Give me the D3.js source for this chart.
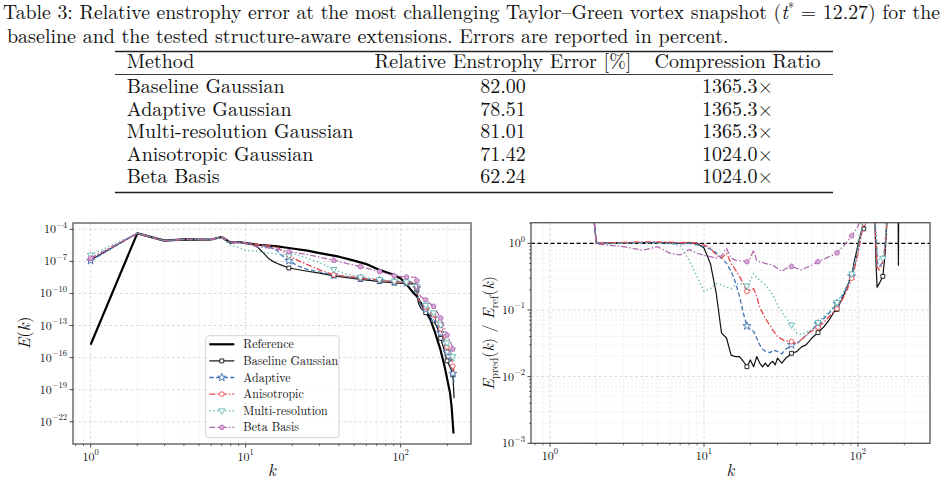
<!DOCTYPE html>
<html>
<head>
<meta charset="utf-8">
<script src="https://cdn.jsdelivr.net/npm/d3@7"></script>
<style>
  body { margin: 0; background: #fff; }
  svg text { font-family: "Latin Modern Roman", "CMU Serif", "Liberation Serif", serif; fill: #111; }
</style>
</head>
<body>
<svg id="fig" width="948" height="484"></svg>
<script>
// ---------- table data ----------
const tableHeader = ["Method", "Relative Enstrophy Error [%]", "Compression Ratio"];
const methods = ["Baseline Gaussian", "Adaptive Gaussian", "Multi-resolution Gaussian", "Anisotropic Gaussian", "Beta Basis"];
const errors = ["82.00", "78.51", "81.01", "71.42", "62.24"];
const ratios = ["1365.3×", "1365.3×", "1365.3×", "1024.0×", "1024.0×"];

// ---------- spectra E(k), pairs [k, E] ----------
const specReference = [[1,1.6e-15],[2,4.2e-5],[3,8.7e-6],[4,1.15e-5],[5,1.07e-5],[6,1.12e-5],[7,1.9e-5],[8,5.6e-6],[9,6.5e-6],[10,5.2e-6],
  [12,3.6e-6],[14,3.0e-6],[16,2.5e-6],[18,2.0e-6],[20,1.6e-6],[25,1.0e-6],[30,6.0e-7],[40,2.75e-7],[50,1.17e-7],[60,5.6e-8],[73,1.6e-8],
  [80,1.0e-8],[90,5.6e-9],[100,2.5e-9],[107,1.0e-9],[120,1.26e-10],[127,5.6e-11],[140,5.0e-12],[155,4.0e-13],[166,2.5e-14],[180,6.3e-16],
  [193,1.0e-17],[208,5.0e-20],[213,2.5e-21],[219,8e-24]];
const specBaseline = [[1,1.35e-7],[2,4.2e-5],[3,8.7e-6],[4,1.15e-5],[5,1.07e-5],[6,1.12e-5],[7,1.9e-5],[8,5.6e-6],[9,6.5e-6],[10,5.2e-6],
  [11,4.0e-6],[12,2.0e-6],[13,6.3e-7],[14,2.0e-7],[15,1.0e-7],[16,6.3e-8],[17,4.5e-8],[19,2.4e-8],[25,1.2e-8],[30,7.9e-9],[37,4.5e-9],
  [45,3.0e-9],[55,2.1e-9],[65,1.6e-9],[73,1.3e-9],[91,9.5e-10],[109,8.5e-10],[125,7.6e-10],[127,2.5e-10],[130,1.26e-11],[135,4.0e-12],
  [145,1.6e-12],[155,7.9e-13],[163,3.2e-13],[172,6.3e-14],[181,6.3e-15],[190,6.3e-16],[199,5.0e-17],[210,1.0e-17],[217,2.5e-18],[221,1.6e-20]];
const specAdaptive = [[1,1.17e-7],[2,4.2e-5],[3,8.7e-6],[4,1.15e-5],[5,1.07e-5],[6,1.12e-5],[7,1.9e-5],[8,5.6e-6],[9,6.5e-6],[10,5.2e-6],
  [12,3.8e-6],[14,2.5e-6],[16,1.0e-6],[17,4.0e-7],[19,1.12e-7],[22,3.5e-8],[25,1.8e-8],[30,1.0e-8],[37,5.2e-9],[55,2.5e-9],[73,1.6e-9],
  [91,1.12e-9],[109,1.0e-9],[125,8.9e-10],[127,3.2e-10],[130,2.5e-11],[135,7.9e-12],[145,3.2e-12],[163,5.0e-13],[181,2.0e-14],[199,3.2e-16],
  [210,5.0e-17],[217,3.2e-18],[221,3.2e-19]];
const specAnisotropic = [[1,1.9e-7],[2,4.2e-5],[3,8.7e-6],[4,1.15e-5],[5,1.07e-5],[6,1.12e-5],[7,1.9e-5],[8,5.6e-6],[9,6.5e-6],[10,5.2e-6],
  [12,3.8e-6],[14,3.0e-6],[16,2.1e-6],[19,3.2e-7],[22,1.12e-7],[25,5.0e-8],[30,1.6e-8],[37,5.6e-9],[55,2.8e-9],[73,1.8e-9],[91,1.26e-9],
  [109,1.12e-9],[125,1.0e-9],[127,4.0e-10],[130,3.2e-11],[135,1.26e-11],[145,5.0e-12],[163,1.0e-12],[181,5.0e-14],[199,1.0e-15],
  [210,2.5e-16],[217,1.6e-17],[221,5.0e-18]];
const specMultires = [[1,4.0e-7],[2,4.2e-5],[3,8.7e-6],[4,1.15e-5],[5,1.07e-5],[6,1.12e-5],[7,1.9e-5],[8,3.2e-6],[9,2.0e-6],[10,1.05e-6],
  [12,8.9e-7],[14,6.3e-7],[16,5.0e-7],[19,3.6e-7],[21,4.8e-7],[24,2.5e-7],[28,1.12e-7],[33,4.0e-8],[37,1.8e-8],[45,6.3e-9],[55,3.5e-9],
  [73,2.0e-9],[91,1.4e-9],[109,1.26e-9],[125,1.12e-9],[127,5.0e-10],[130,4.0e-11],[135,1.6e-11],[145,7.9e-12],[163,1.6e-12],[181,1.26e-13],
  [199,2.5e-15],[210,4.0e-16],[217,1.26e-16],[221,3.2e-17]];
const specBeta = [[1,2.0e-7],[2,4.2e-5],[3,8.7e-6],[4,1.15e-5],[5,1.07e-5],[6,1.12e-5],[7,1.9e-5],[8,5.6e-6],[9,6.5e-6],[10,5.2e-6],
  [12,2.2e-6],[14,1.8e-6],[16,1.4e-6],[19,7.9e-7],[25,4.5e-7],[30,2.5e-7],[37,1.26e-7],[45,6.3e-8],[55,3.2e-8],[73,1.12e-8],[91,4.5e-9],
  [109,3.5e-9],[125,3.2e-9],[127,1.6e-9],[130,1.26e-10],[135,5.0e-11],[145,2.5e-11],[163,6.3e-12],[181,5.0e-13],[199,1.26e-14],
  [210,2.5e-15],[217,6.3e-16],[221,3.2e-16]];

// ---------- ratio E_pred / E_ref, pairs [k, r] ----------
const ratioBaseline = [[1,1e7],[2,1.0],[3,1.02],[4,1.03],[5,1.03],[6,1.02],[7,1.0],[8,1.02],[9,1.0],[10,0.85],[11,0.5],[12,0.18],[13,0.045],
  [14,0.038],[15,0.021],[16,0.02],[17,0.02],[18,0.017],[19,0.0141],[20,0.0178],[21,0.0141],[22,0.02],[23,0.016],[24,0.014],[25,0.016],
  [26,0.0141],[27,0.016],[28,0.017],[29,0.015],[30,0.019],[32,0.016],[34,0.019],[36,0.021],[37,0.0224],[40,0.0237],[43,0.028],[46,0.03],
  [50,0.0376],[55,0.0457],[60,0.056],[65,0.071],[70,0.094],[73,0.102],[80,0.158],[85,0.224],[91,0.335],[95,0.56],[100,0.94],[105,1.5],
  [109,1.65],[115,3],[120,6],[127,10],[129,2.0],[131,0.5],[133,0.22],[136,0.24],[140,0.27],[145,0.32],[150,0.7],[155,2.5],[160,10],
  [181,10],[182,4],[183,0.47],[184,4],[185,10],[222,10]];
const ratioAdaptive = [[1,1e7],[2,1.0],[3,1.02],[4,1.03],[5,1.03],[6,1.0],[7,0.98],[8,1.0],[9,0.95],[10,0.9],[11,0.82],[12,0.72],[13,0.6],
  [14,0.5],[15,0.38],[16,0.26],[17,0.16],[18,0.09],[19,0.0575],[20,0.05],[21,0.048],[22,0.038],[23,0.03],[24,0.026],[25,0.024],[27,0.023],
  [28,0.025],[30,0.024],[32,0.022],[34,0.026],[36,0.028],[37,0.03],[40,0.031],[43,0.036],[46,0.042],[50,0.05],[55,0.062],[60,0.075],
  [65,0.09],[70,0.11],[73,0.125],[80,0.17],[85,0.22],[91,0.32],[95,0.45],[100,0.8],[105,1.4],[109,2.2],[115,5],[127,10],[130,1.5],
  [134,0.5],[138,0.45],[143,0.5],[148,0.7],[152,1.5],[156,5],[222,10]];
const ratioAnisotropic = [[1,1e7],[2,1.0],[3,1.03],[4,1.05],[5,1.05],[6,1.04],[7,1.02],[8,1.04],[9,1.0],[10,0.95],[11,0.85],[12,0.67],
  [13,0.6],[14,0.71],[15,0.5],[16,0.4],[17,0.32],[18,0.25],[19,0.19],[20,0.2],[21,0.21],[22,0.16],[23,0.11],[25,0.075],[28,0.05],
  [30,0.04],[33,0.035],[36,0.0335],[37,0.0335],[40,0.0316],[44,0.0376],[49,0.047],[55,0.055],[60,0.065],[65,0.08],[70,0.095],[73,0.105],
  [80,0.15],[85,0.2],[91,0.3],[95,0.42],[100,0.7],[105,1.3],[109,2.0],[115,5],[127,10],[130,1.2],[133,0.45],[137,0.4],[142,0.45],
  [147,0.6],[152,1.3],[156,5],[222,10]];
const ratioMultires = [[1,1e7],[2,0.97],[3,1.0],[4,1.02],[5,1.0],[6,0.98],[7,0.93],[8,0.56],[9,0.32],[10,0.19],[11,0.21],[12,0.25],
  [13,0.24],[14,0.22],[15,0.21],[16,0.24],[17,0.25],[18,0.24],[19,0.23],[20,0.28],[21,0.35],[22,0.31],[23,0.28],[25,0.24],[28,0.168],
  [30,0.119],[33,0.084],[37,0.06],[40,0.045],[43,0.043],[46,0.046],[50,0.05],[55,0.065],[60,0.08],[65,0.095],[70,0.115],[73,0.13],
  [80,0.18],[85,0.24],[91,0.35],[95,0.5],[100,0.85],[105,1.5],[109,2.5],[115,6],[127,10],[130,1.8],[135,0.6],[140,0.55],[145,0.6],
  [150,0.9],[154,2],[157,6],[222,10]];
const ratioBeta = [[1,1e7],[2,0.98],[3,0.89],[4,0.79],[5,0.89],[6,0.71],[7,0.67],[8,0.81],[9,0.71],[10,0.66],[11,0.63],[12,0.6],
  [13,0.65],[14,0.84],[15,0.6],[16,0.56],[17,0.55],[18,0.54],[19,0.53],[20,0.6],[21,0.79],[22,0.55],[23,0.53],[25,0.5],[28,0.47],
  [30,0.42],[32,0.38],[34,0.42],[37,0.45],[40,0.42],[43,0.4],[46,0.43],[50,0.47],[55,0.53],[60,0.58],[65,0.63],[70,0.68],[73,0.72],
  [80,0.9],[85,1.05],[91,1.3],[95,1.5],[100,1.8],[105,2.5],[110,4],[127,10],[222,10]];

// marker positions (every 18th wavenumber) and legend names
const markK = [1, 19, 37, 55, 73, 91, 109, 127, 145, 163, 181, 199, 217];
const seriesNames = ["Reference", "Baseline Gaussian", "Adaptive", "Anisotropic", "Multi-resolution", "Beta Basis"];

// ---------- styles ----------
const styles = {
  "Reference":         {color: "#000000", width: 2.2, dash: null,          marker: null},
  "Baseline Gaussian": {color: "#111111", width: 1.2, dash: null,          marker: "square"},
  "Adaptive":          {color: "#4273b2", width: 1.3, dash: "4.5,2.5",     marker: "star"},
  "Anisotropic":       {color: "#e8474c", width: 1.3, dash: "6,2,1.5,2",   marker: "circle"},
  "Multi-resolution":  {color: "#5cbab2", width: 1.4, dash: "1.3,2.6",     marker: "tridown"},
  "Beta Basis":        {color: "#b06cb0", width: 1.3, dash: "6,2,1.5,2",   marker: "pentagon"}
};
const specData  = [specReference, specBaseline, specAdaptive, specAnisotropic, specMultires, specBeta];
const ratioData = [null, ratioBaseline, ratioAdaptive, ratioAnisotropic, ratioMultires, ratioBeta];

const svg = d3.select("#fig");

// ---------- caption + table ----------
const cap1 = svg.append("text").attr("x", 3).attr("y", 19).style("font-size", "19.8px");
cap1.append("tspan").text("Table 3: Relative enstrophy error at the most challenging Taylor–Green vortex snapshot (");
cap1.append("tspan").style("font-style", "italic").text("t");
cap1.append("tspan").attr("dy", -7).style("font-size", "13px").text("*");
cap1.append("tspan").attr("dy", 7).text(" = 12.27) for the");

svg.append("text").attr("x", 7).attr("y", 43).style("font-size", "20px")
  .text("baseline and the tested structure-aware extensions. Errors are reported in percent.");

const tbl = svg.append("g");
const ruleX = [115, 833];
[[51.5, 1.4], [74.5, 0.9], [192.5, 1.4]].forEach(([y, w]) => {
  tbl.append("line").attr("x1", ruleX[0]).attr("x2", ruleX[1]).attr("y1", y).attr("y2", y)
    .attr("stroke", "#222").attr("stroke-width", w);
});
const colX = [126.7, 503, 737.5];
const colAnchor = ["start", "middle", "middle"];
tableHeader.forEach((h, i) => {
  tbl.append("text").attr("x", colX[i]).attr("y", 68.3).attr("text-anchor", colAnchor[i])
    .style("font-size", "20px").text(h);
});
const rowY = d3.range(methods.length).map(i => 93 + i * 22.5);
methods.forEach((m, i) => {
  [m, errors[i], ratios[i]].forEach((c, j) => {
    tbl.append("text").attr("x", colX[j]).attr("y", rowY[i]).attr("text-anchor", colAnchor[j])
      .style("font-size", "20px").text(c);
  });
});

// ---------- plot helpers ----------
function symbolPath(type) {
  if (type === "square") return d3.symbol(d3.symbolSquare, 15)();
  if (type === "circle") return d3.symbol(d3.symbolCircle, 17)();
  if (type === "star") return d3.symbol(d3.symbolStar, 20)();
  if (type === "tridown") return d3.symbol(d3.symbolTriangle, 17)();
  if (type === "pentagon") {
    const r = 2.6;
    return d3.range(5).map(i => {
      const a = -Math.PI / 2 + i * 2 * Math.PI / 5;
      return (i ? "L" : "M") + (r * Math.cos(a)).toFixed(2) + "," + (r * Math.sin(a)).toFixed(2);
    }).join("") + "Z";
  }
  return null;
}
function drawMarker(g, type, color, x, y) {
  return g.append("path").attr("d", symbolPath(type))
    .attr("transform", `translate(${x},${y})` + (type === "tridown" ? " rotate(180)" : ""))
    .attr("fill", type === "pentagon" ? "#d7a9d7" : "#fff")
    .attr("stroke", color).attr("stroke-width", 0.9);
}

function supText(g, x, y, base, exp, anchor) {
  const t = g.append("text").attr("x", x).attr("y", y).attr("text-anchor", anchor)
    .style("font-size", "12px");
  t.append("tspan").text(base);
  t.append("tspan").attr("dy", -5.5).style("font-size", "8.5px").text(exp);
  return t;
}

function drawPanel(id, box, xs, ys, cfg) {
  const g = svg.append("g");
  const gridMaj = {stroke: "#d2d2d2", w: 0.8, dash: "3,2.2"};
  const gridMin = {stroke: "#e6e6e6", w: 0.6, dash: "2,2"};
  const grid = g.append("g");
  const hline = (y, s) => grid.append("line").attr("x1", box.x0).attr("x2", box.x1).attr("y1", y).attr("y2", y)
    .attr("stroke", s.stroke).attr("stroke-width", s.w).attr("stroke-dasharray", s.dash);
  const vline = (x, s) => grid.append("line").attr("y1", box.y0).attr("y2", box.y1).attr("x1", x).attr("x2", x)
    .attr("stroke", s.stroke).attr("stroke-width", s.w).attr("stroke-dasharray", s.dash);

  cfg.xMinor.forEach(v => vline(xs(v), gridMin));
  cfg.xMajor.forEach(v => vline(xs(v), gridMaj));
  cfg.yMinor.forEach(v => hline(ys(v), gridMin));
  cfg.yMajor.forEach(v => hline(ys(v), gridMaj));

  svg.append("clipPath").attr("id", id).append("rect")
    .attr("x", box.x0).attr("y", box.y0).attr("width", box.x1 - box.x0).attr("height", box.y1 - box.y0);
  const plot = g.append("g").attr("clip-path", `url(#${id})`);

  const ax = g.append("g");
  ax.append("rect").attr("x", box.x0).attr("y", box.y0).attr("width", box.x1 - box.x0).attr("height", box.y1 - box.y0)
    .attr("fill", "none").attr("stroke", "#555").attr("stroke-width", 1.3);
  const tick = (x1, y1, x2, y2, w) => ax.append("line").attr("x1", x1).attr("y1", y1).attr("x2", x2).attr("y2", y2)
    .attr("stroke", "#333").attr("stroke-width", w);
  cfg.xMajor.forEach(v => {
    tick(xs(v), box.y1, xs(v), box.y1 + 3.5, 0.9);
    supText(ax, xs(v), box.y1 + 16.5, "10", Math.round(Math.log10(v)).toString(), "middle");
  });
  cfg.xMinor.forEach(v => tick(xs(v), box.y1, xs(v), box.y1 + 2, 0.7));
  cfg.yMajor.forEach(v => {
    tick(box.x0, ys(v), box.x0 - 3.5, ys(v), 0.9);
    const e = Math.round(Math.log10(v));
    supText(ax, box.x0 - 6, ys(v) + 4, "10", (e < 0 ? "−" : "") + Math.abs(e), "end");
  });
  cfg.yMinor.forEach(v => tick(box.x0, ys(v), box.x0 - 2, ys(v), 0.7));

  ax.append("text").attr("x", (box.x0 + box.x1) / 2).attr("y", 476).attr("text-anchor", "middle")
    .style("font-size", "17px").style("font-style", "italic").text("k");
  return plot;
}

const decadeMinors = (lo, hi) => {
  const out = [];
  for (let e = lo; e <= hi; e++) for (let m = 2; m <= 9; m++) out.push(m * Math.pow(10, e));
  return out;
};

// ---------- left panel: spectra ----------
const boxL = {x0: 73, x1: 471, y0: 223, y1: 444};
const xL = d3.scaleLog().domain([0.77, 284]).range([boxL.x0, boxL.x1]);
const yL = d3.scaleLog().domain([8.3e-25, 3.9e-4]).range([boxL.y1, boxL.y0]);
const plotL = drawPanel("clipL", boxL, xL, yL, {
  xMajor: [1, 10, 100],
  xMinor: [0.8, 0.9].concat(decadeMinors(0, 1)).concat([200]),
  yMajor: [1e-4, 1e-7, 1e-10, 1e-13, 1e-16, 1e-19, 1e-22],
  yMinor: []
});
const ylabL = svg.append("text").attr("transform", "translate(30,333) rotate(-90)").attr("text-anchor", "middle")
  .style("font-size", "17px");
ylabL.append("tspan").style("font-style", "italic").text("E");
ylabL.append("tspan").text("(");
ylabL.append("tspan").style("font-style", "italic").text("k");
ylabL.append("tspan").text(")");

const lineL = d3.line().x(d => xL(d[0])).y(d => yL(d[1]));
seriesNames.forEach((name, i) => {
  const s = styles[name];
  plotL.append("path").datum(specData[i]).attr("d", lineL).attr("fill", "none")
    .attr("stroke", s.color).attr("stroke-width", s.width).attr("stroke-dasharray", s.dash)
    .attr("stroke-linejoin", "round");
  if (s.marker) specData[i].filter(d => markK.includes(d[0]))
    .forEach(d => drawMarker(plotL, s.marker, s.color, xL(d[0]), yL(d[1])));
});

// legend
const leg = svg.append("g");
leg.append("rect").attr("x", 205.7).attr("y", 335.7).attr("width", 133.3).attr("height", 102).attr("rx", 3)
  .attr("fill", "#fff").attr("fill-opacity", 0.85).attr("stroke", "#d0d0d0").attr("stroke-width", 0.9);
seriesNames.forEach((name, i) => {
  const s = styles[name];
  const y = 344.3 + i * 16.6;
  leg.append("line").attr("x1", 209.3).attr("x2", 234.3).attr("y1", y).attr("y2", y)
    .attr("stroke", s.color).attr("stroke-width", s.width).attr("stroke-dasharray", s.dash);
  if (s.marker) drawMarker(leg, s.marker, s.color, 221.8, y);
  leg.append("text").attr("x", 243.3).attr("y", y + 4).style("font-size", "12px").text(name);
});

// ---------- right panel: ratio ----------
const boxR = {x0: 531, x1: 930, y0: 222.7, y1: 443.3};
const xR = d3.scaleLog().domain([0.7527, 293.5]).range([boxR.x0, boxR.x1]);
const yR = d3.scaleLog().domain([1e-3, 2.04]).range([boxR.y1, boxR.y0]);
const plotR = drawPanel("clipR", boxR, xR, yR, {
  xMajor: [1, 10, 100],
  xMinor: [0.8, 0.9].concat(decadeMinors(0, 1)).concat([200]),
  yMajor: [1e-3, 1e-2, 1e-1, 1],
  yMinor: decadeMinors(-3, -1).concat([2])
});
const ylabR = svg.append("text").attr("transform", "translate(494,333) rotate(-90)").attr("text-anchor", "middle")
  .style("font-size", "16px");
ylabR.append("tspan").style("font-style", "italic").text("E");
ylabR.append("tspan").attr("dy", 4).style("font-size", "11px").text("pred");
ylabR.append("tspan").attr("dy", -4).text("(");
ylabR.append("tspan").style("font-style", "italic").text("k");
ylabR.append("tspan").text(") / ");
ylabR.append("tspan").style("font-style", "italic").text("E");
ylabR.append("tspan").attr("dy", 4).style("font-size", "11px").text("ref");
ylabR.append("tspan").attr("dy", -4).text("(");
ylabR.append("tspan").style("font-style", "italic").text("k");
ylabR.append("tspan").text(")");

plotR.append("line").attr("x1", boxR.x0).attr("x2", boxR.x1).attr("y1", yR(1)).attr("y2", yR(1))
  .attr("stroke", "#000").attr("stroke-width", 1.2).attr("stroke-dasharray", "4,2.5");

const lineR = d3.line().x(d => xR(d[0])).y(d => yR(d[1]));
seriesNames.forEach((name, i) => {
  if (!ratioData[i]) return;
  const s = styles[name];
  plotR.append("path").datum(ratioData[i]).attr("d", lineR).attr("fill", "none")
    .attr("stroke", s.color).attr("stroke-width", s.width).attr("stroke-dasharray", s.dash)
    .attr("stroke-linejoin", "round");
  ratioData[i].filter(d => markK.includes(d[0]) && d[1] < 2.04)
    .forEach(d => drawMarker(plotR, s.marker, s.color, xR(d[0]), yR(d[1])));
});
</script>
</body>
</html>
